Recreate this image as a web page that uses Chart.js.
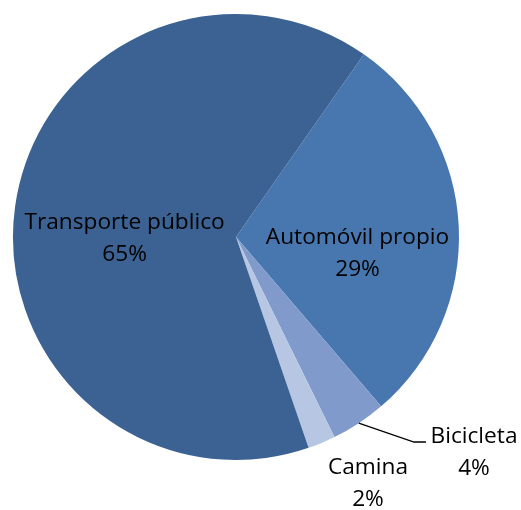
<!DOCTYPE html>
<html>
<head>
<meta charset="utf-8">
<script src="https://cdn.jsdelivr.net/npm/chart.js@4/dist/chart.umd.min.js"></script>
<style>
  html, body { margin: 0; padding: 0; background: #fff; }
  #wrap { width: 521px; height: 510px; }
</style>
</head>
<body>
<div id="wrap"><canvas id="pieChart" width="521" height="510"></canvas></div>
<script>
// datos (orden horario a partir de ~35°)
const categorias = ['Automóvil propio', 'Bicicleta', 'Camina', 'Transporte público'];
const porcentajes = [29, 4, 2, 65];
const colores = ['#4877B0', '#7F9ACB', '#B7C6E2', '#3B6292'];

// ubicación de etiquetas: dentro (fracción del radio) o fuera con guía
const etiquetas = [
    { tipo: 'dentro', f: 0.55, dx: -1, dy: 23 },
    { tipo: 'fuera', guia: true, tx: 474, ty: 437 },
    { tipo: 'fuera', guia: false, tx: 368, ty: 468 },
    { tipo: 'dentro', f: 0.5, dx: -1, dy: 17 }
];

const FONT = '22.7px "Open Sans", Lato, sans-serif';
const LINE_H = 32;

const labelPlugin = {
    id: 'pieLabels',
    afterDatasetsDraw(chart) {
        const ctx = chart.ctx;
        const meta = chart.getDatasetMeta(0);
        ctx.save();
        ctx.font = FONT;
        ctx.fillStyle = '#000';
        ctx.textAlign = 'center';
        ctx.textBaseline = 'middle';
        meta.data.forEach((arc, i) => {
            const cfg = etiquetas[i];
            const mid = (arc.startAngle + arc.endAngle) / 2;
            let x, y;
            if (cfg.tipo === 'dentro') {
                x = arc.x + Math.cos(mid) * arc.outerRadius * cfg.f + cfg.dx;
                y = arc.y + Math.sin(mid) * arc.outerRadius * cfg.f + cfg.dy - LINE_H / 2;
            } else {
                x = cfg.tx;
                y = cfg.ty;
                if (cfg.guia) {
                    const ex = arc.x + Math.cos(mid) * arc.outerRadius;
                    const ey = arc.y + Math.sin(mid) * arc.outerRadius;
                    ctx.beginPath();
                    ctx.strokeStyle = '#000';
                    ctx.lineWidth = 1.3;
                    ctx.moveTo(ex, ey);
                    ctx.lineTo(414, y + 5);
                    ctx.lineTo(426, y + 5);
                    ctx.stroke();
                }
            }
            ctx.fillText(categorias[i], x, y);
            ctx.fillText(porcentajes[i] + '%', x, y + LINE_H);
        });
        ctx.restore();
    }
};

new Chart(document.getElementById('pieChart'), {
    type: 'pie',
    data: {
        labels: categorias,
        datasets: [{
            data: porcentajes,
            backgroundColor: colores,
            borderWidth: 0
        }]
    },
    options: {
        responsive: false,
        animation: false,
        rotation: 35,
        layout: { padding: { left: 13, right: 62, top: 14, bottom: 50 } },
        plugins: {
            legend: { display: false },
            tooltip: { enabled: false }
        }
    },
    plugins: [labelPlugin]
});
</script>
</body>
</html>
